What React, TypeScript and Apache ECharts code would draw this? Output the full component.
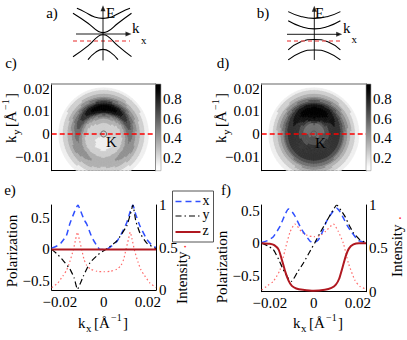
import React, { useEffect, useRef } from 'react';
import * as echarts from 'echarts';

const FONT = "'Liberation Serif', 'Times New Roman', serif";

// ---------- panels c, d : k-space intensity maps ----------
const KX_RANGE = [-0.0237, 0.0237];
const KY_RANGE = [-0.0163, 0.0222];
const KY_TICKS = [-0.01, 0, 0.01, 0.02];
const CBAR_RANGE = [0.07, 0.955];
const CBAR_TICKS = [0.2, 0.4, 0.6, 0.8];
const MAP_ANGLES = [0, 30, 60, 90, 120, 150, 180, 210, 240, 270, 300, 330];
const MAP_RADII = [0, 0.004, 0.007, 0.009, 0.01, 0.011, 0.012, 0.013, 0.014, 0.016, 0.018, 0.0205];
const MAP_C = [
  [0.21, 0.22, 0.26, 0.33, 0.42, 0.52, 0.56, 0.52, 0.45, 0.32, 0.22, 0.14],
  [0.21, 0.23, 0.3, 0.42, 0.55, 0.68, 0.72, 0.66, 0.56, 0.38, 0.25, 0.15],
  [0.21, 0.25, 0.38, 0.58, 0.78, 0.9, 0.92, 0.86, 0.7, 0.45, 0.28, 0.16],
  [0.21, 0.26, 0.42, 0.65, 0.88, 0.95, 0.95, 0.92, 0.78, 0.48, 0.3, 0.16],
  [0.21, 0.25, 0.38, 0.58, 0.78, 0.9, 0.92, 0.86, 0.7, 0.45, 0.28, 0.16],
  [0.21, 0.23, 0.3, 0.42, 0.55, 0.68, 0.72, 0.66, 0.56, 0.38, 0.25, 0.15],
  [0.21, 0.22, 0.26, 0.33, 0.42, 0.52, 0.56, 0.52, 0.45, 0.32, 0.22, 0.14],
  [0.21, 0.2, 0.23, 0.28, 0.33, 0.4, 0.46, 0.48, 0.46, 0.36, 0.23, 0.14],
  [0.21, 0.18, 0.2, 0.25, 0.3, 0.36, 0.4, 0.41, 0.38, 0.3, 0.2, 0.14],
  [0.21, 0.17, 0.19, 0.23, 0.27, 0.32, 0.36, 0.36, 0.33, 0.26, 0.18, 0.14],
  [0.21, 0.18, 0.2, 0.25, 0.3, 0.36, 0.4, 0.41, 0.38, 0.3, 0.2, 0.14],
  [0.21, 0.2, 0.23, 0.28, 0.33, 0.4, 0.46, 0.48, 0.46, 0.36, 0.23, 0.14],
];
const MAP_D = [
  [0.55, 0.6, 0.7, 0.76, 0.76, 0.74, 0.7, 0.62, 0.52, 0.36, 0.23, 0.14],
  [0.55, 0.5, 0.72, 0.8, 0.82, 0.8, 0.76, 0.68, 0.58, 0.4, 0.25, 0.15],
  [0.55, 0.5, 0.85, 0.92, 0.93, 0.92, 0.88, 0.8, 0.68, 0.47, 0.28, 0.16],
  [0.55, 0.55, 0.9, 0.95, 0.95, 0.95, 0.92, 0.85, 0.72, 0.5, 0.3, 0.16],
  [0.55, 0.5, 0.85, 0.92, 0.93, 0.92, 0.88, 0.8, 0.68, 0.47, 0.28, 0.16],
  [0.55, 0.5, 0.72, 0.8, 0.82, 0.8, 0.76, 0.68, 0.58, 0.4, 0.25, 0.15],
  [0.55, 0.6, 0.7, 0.76, 0.76, 0.74, 0.7, 0.62, 0.52, 0.36, 0.23, 0.14],
  [0.55, 0.64, 0.72, 0.76, 0.76, 0.74, 0.7, 0.62, 0.52, 0.36, 0.23, 0.14],
  [0.55, 0.66, 0.74, 0.77, 0.77, 0.75, 0.7, 0.63, 0.53, 0.37, 0.23, 0.14],
  [0.55, 0.66, 0.74, 0.78, 0.78, 0.76, 0.71, 0.64, 0.54, 0.38, 0.24, 0.14],
  [0.55, 0.66, 0.74, 0.77, 0.77, 0.75, 0.7, 0.63, 0.53, 0.37, 0.23, 0.14],
  [0.55, 0.64, 0.72, 0.76, 0.76, 0.74, 0.7, 0.62, 0.52, 0.36, 0.23, 0.14],
];
const K_POINT = [[0, 0]];
const CUT_LINE = [[-0.0237, 0], [0.0237, 0]];

// ---------- panels e, f : polarization & intensity along k_x ----------
const KX_TICKS = [-0.02, 0, 0.02];
const POL_TICKS = [-0.5, 0, 0.5];
const INT_TICKS = [0, 0.5, 1];
const POL_RANGE_E = [-0.64, 0.7];
const POL_RANGE_F = [-0.75, 0.59];
const LEGEND_NAMES = ['x', 'y', 'z'];

const E_X = [[-0.0237, 0.02], [-0.021, 0.06], [-0.0195, 0.1], [-0.017, 0.22], [-0.0155, 0.4], [-0.0135, 0.58], [-0.0118, 0.7], [-0.0105, 0.6], [-0.009, 0.47], [-0.0078, 0.4], [-0.006, 0.24], [-0.0048, 0.15], [-0.003, 0.05], [-0.0018, 0], [0.0013, 0], [0.003, 0.04], [0.0058, 0.12], [0.008, 0.25], [0.0104, 0.42], [0.012, 0.6], [0.0132, 0.7], [0.0145, 0.55], [0.0164, 0.37], [0.0195, 0.16], [0.022, 0.06], [0.0237, 0.03]];
const E_Y = [[-0.0237, 0], [-0.021, -0.08], [-0.0184, -0.18], [-0.0154, -0.31], [-0.0135, -0.45], [-0.012, -0.63], [-0.0105, -0.52], [-0.0093, -0.42], [-0.0063, -0.21], [-0.0025, -0.08], [0.0013, 0.01], [0.0058, 0.13], [0.0104, 0.37], [0.012, 0.55], [0.0132, 0.7], [0.0145, 0.45], [0.0164, 0.26], [0.0195, 0.1], [0.0237, 0.01]];
const E_Z = [[-0.0237, 0], [0, 0], [0.0237, 0]];
const E_I = [[-0.0237, 0.03], [-0.021, 0.08], [-0.0185, 0.17], [-0.0169, 0.235], [-0.0155, 0.33], [-0.0139, 0.47], [-0.0128, 0.6], [-0.012, 0.68], [-0.0112, 0.6], [-0.01, 0.47], [-0.009, 0.36], [-0.0078, 0.29], [-0.006, 0.245], [-0.003, 0.22], [0, 0.215], [0.003, 0.22], [0.006, 0.245], [0.0078, 0.29], [0.009, 0.36], [0.01, 0.47], [0.0112, 0.6], [0.012, 0.68], [0.0128, 0.6], [0.0139, 0.47], [0.0155, 0.33], [0.0169, 0.235], [0.0185, 0.17], [0.021, 0.08], [0.0237, 0.03]];

const F_X = [[-0.0237, 0.01], [-0.021, 0.04], [-0.0184, 0.1], [-0.0154, 0.26], [-0.013, 0.45], [-0.0116, 0.53], [-0.0102, 0.5], [-0.0086, 0.42], [-0.0055, 0.21], [-0.0017, 0.03], [0, 0.01], [0.002, 0.05], [0.004, 0.18], [0.0058, 0.34], [0.0089, 0.5], [0.0104, 0.54], [0.012, 0.48], [0.0134, 0.39], [0.0152, 0.27], [0.0172, 0.17], [0.0202, 0.04], [0.0237, 0.01]];
const F_Y = [[-0.0237, 0], [-0.021, -0.04], [-0.0184, -0.1], [-0.016, -0.25], [-0.0139, -0.41], [-0.0115, -0.55], [-0.0101, -0.59], [-0.0075, -0.45], [-0.0048, -0.31], [-0.002, -0.14], [0.0005, 0.01], [0.003, 0.17], [0.0058, 0.34], [0.008, 0.47], [0.0104, 0.59], [0.0125, 0.5], [0.0142, 0.41], [0.016, 0.28], [0.018, 0.16], [0.021, 0.05], [0.0237, 0.01]];
const F_Z = [[-0.0237, 0], [-0.02, -0.01], [-0.018, -0.03], [-0.016, -0.1], [-0.0145, -0.26], [-0.013, -0.44], [-0.0115, -0.58], [-0.01, -0.66], [-0.008, -0.7], [-0.005, -0.72], [0, -0.735], [0.005, -0.72], [0.008, -0.69], [0.01, -0.64], [0.0115, -0.55], [0.013, -0.38], [0.0145, -0.2], [0.016, -0.08], [0.018, -0.02], [0.0205, 0], [0.0237, 0]];
const F_I = [[-0.0237, 0.02], [-0.021, 0.07], [-0.0184, 0.12], [-0.0154, 0.25], [-0.0131, 0.48], [-0.0108, 0.69], [-0.0086, 0.78], [-0.0055, 0.69], [-0.003, 0.65], [0, 0.634], [0.003, 0.65], [0.0055, 0.7], [0.0089, 0.78], [0.011, 0.7], [0.0134, 0.56], [0.0157, 0.33], [0.0187, 0.13], [0.021, 0.06], [0.0237, 0.03]];

// ---------- panels a, b : band schematics (normalized units) ----------
const A_BANDS = [
  [[-0.87, 0.95], [-0.6, 0.81], [-0.3, 0.64], [0, 0.58], [0.3, 0.64], [0.6, 0.81], [0.9, 0.95]],
  [[-1, 0.77], [-0.5, 0.4], [-0.15, 0.09], [0, 0.05], [0.15, 0.09], [0.5, 0.4], [0.95, 0.77]],
  [[-1, -0.84], [-0.5, -0.44], [-0.15, -0.08], [0, -0.03], [0.15, -0.08], [0.5, -0.44], [0.95, -0.84]],
  [[-0.5, -0.95], [-0.25, -0.68], [0, -0.57], [0.25, -0.68], [0.5, -0.95]],
];
const A_KAXIS = [[-0.9, 0], [0.85, 0]];
const A_EAXIS = [[0, -0.98], [0, 0.95]];
const A_FERMI = [[-1, -0.26], [0.9, -0.26]];
const B_BANDS = [
  [[-0.87, 0.84], [-0.45, 0.66], [0, 0.59], [0.45, 0.66], [0.87, 0.84]],
  [[-0.87, 0.5], [-0.45, 0.29], [0, 0.2], [0.45, 0.29], [0.87, 0.5]],
  [[-0.87, -0.58], [-0.45, -0.28], [0, -0.19], [0.45, -0.28], [0.87, -0.58]],
  [[-0.87, -0.95], [-0.45, -0.67], [0, -0.58], [0.45, -0.67], [0.87, -0.95]],
];
const B_KAXIS = [[-0.91, 0], [0.83, 0]];
const B_EAXIS = [[0, -0.95], [0, 0.95]];
const B_FERMI = [[-0.91, -0.25], [0.86, -0.25]];

// ---------- styles ----------
const C_X = '#3050ff';
const C_Y = '#000000';
const C_Z = '#b01820';
const C_I = '#ff6a6a';
const DASH_X = [6, 4];
const DASH_Y = [6, 3, 1.5, 3];
const DASH_I = [1.5, 2.5];

// ---------- helpers ----------
const gray = (v: number) => {
  const g = Math.max(0, Math.min(1, 1 - (v - 0.1) / 0.8));
  const c = Math.round(g * 255);
  return `rgb(${c},${c},${c})`;
};
const level = (v: number) => Math.floor(v * 10) / 10 + 0.05;
const fmt = (v: number) => (v < -1e-9 ? '\u2212' : '') + String(Math.round(Math.abs(v) * 1000) / 1000);

const mapCells = () => {
  const cells: number[][] = [];
  for (let a = 0; a < MAP_ANGLES.length; a++)
    for (let r = 0; r < MAP_RADII.length - 1; r++) cells.push([0, 0, a, r]);
  return cells;
};

const makeMapRender = (grid: number[][]) => (_params: any, api: any) => {
  const a = api.value(2) as number;
  const r = api.value(3) as number;
  const nA = MAP_ANGLES.length;
  const a2 = (a + 1) % nA;
  const t0 = (MAP_ANGLES[a] * Math.PI) / 180;
  const t1 = ((a2 === 0 ? 360 : MAP_ANGLES[a2]) * Math.PI) / 180;
  const r0 = MAP_RADII[r];
  const r1 = MAP_RADII[r + 1];
  const v00 = grid[a][r], v10 = grid[a2][r], v01 = grid[a][r + 1], v11 = grid[a2][r + 1];
  const SA = 6, SR = 3;
  const children: any[] = [];
  for (let i = 0; i < SA; i++) {
    for (let j = 0; j < SR; j++) {
      const fa = (i + 0.5) / SA, fr = (j + 0.5) / SR;
      const v = v00 * (1 - fa) * (1 - fr) + v10 * fa * (1 - fr) + v01 * (1 - fa) * fr + v11 * fa * fr;
      const ta0 = t0 + ((t1 - t0) * i) / SA, ta1 = t0 + ((t1 - t0) * (i + 1)) / SA;
      const rr0 = r0 + ((r1 - r0) * j) / SR, rr1 = r0 + ((r1 - r0) * (j + 1)) / SR;
      const pts = [[rr0, ta0], [rr1, ta0], [rr1, ta1], [rr0, ta1]].map(([rr, tt]) =>
        api.coord([rr * Math.cos(tt), rr * Math.sin(tt)])
      );
      const c = gray(level(v));
      children.push({ type: 'polygon', shape: { points: pts }, style: { fill: c, stroke: c, lineWidth: 0.6 } });
    }
  }
  return { type: 'group', children };
};

const cbarRender = (_params: any, api: any) => {
  const p0 = api.coord([0, CBAR_RANGE[1]]);
  const p1 = api.coord([1, CBAR_RANGE[0]]);
  const stops: any[] = [];
  for (let k = 0; k <= 20; k++) {
    const v = CBAR_RANGE[1] - ((CBAR_RANGE[1] - CBAR_RANGE[0]) * k) / 20;
    stops.push({ offset: k / 20, color: gray(v) });
  }
  return {
    type: 'rect',
    shape: { x: p0[0], y: p0[1], width: p1[0] - p0[0], height: p1[1] - p0[1] },
    style: { fill: new echarts.graphic.LinearGradient(0, 0, 0, 1, stops), stroke: '#999', lineWidth: 0.6 },
  };
};

const T = (text: string, x: number, y: number, size = 15, opts: any = {}) => ({
  type: 'text',
  x,
  y,
  silent: true,
  z: 20,
  style: {
    text,
    fill: opts.fill || '#000',
    font: `${size}px ${FONT}`,
    align: opts.align || 'left',
    verticalAlign: 'middle',
    textAlign: opts.align || 'left',
    textVerticalAlign: 'middle',
  },
});

const kLabel = (sub: string, x: number, y: number, rot: number) => ({
  type: 'group',
  x,
  y,
  rotation: rot,
  children: [
    T('k', 0, 0),
    T(sub, 8, 5, 11),
    T('[Å', 16, 0),
    T('\u22121', 33, -6, 10),
    T(']', 45, 0),
  ],
});

const legendGraphic = () => {
  const x0 = 172.5, y0 = 191, w = 41, h = 51;
  const rows = [
    { name: LEGEND_NAMES[0], y: 201.5, color: C_X, dash: DASH_X, width: 1.5 },
    { name: LEGEND_NAMES[1], y: 216, color: C_Y, dash: DASH_Y, width: 1.2 },
    { name: LEGEND_NAMES[2], y: 232, color: C_Z, dash: null, width: 2 },
  ];
  const els: any[] = [
    { type: 'rect', z: 19, shape: { x: x0, y: y0, width: w, height: h }, style: { fill: '#fff', stroke: '#555', lineWidth: 1 } },
  ];
  rows.forEach((r) => {
    els.push({
      type: 'line', z: 20, shape: { x1: x0 + 3, y1: r.y, x2: x0 + 28, y2: r.y },
      style: { stroke: r.color, lineWidth: r.width, lineDash: r.dash || undefined },
    });
    els.push(T(r.name, x0 + 30, r.y - 1.5, 14));
  });
  return els;
};

const axisFont = { fontFamily: FONT, fontSize: 15, color: '#000' };
const black = { lineStyle: { color: '#000', width: 1 } };

const hiddenAxis = (gridIndex: number, min: number, max: number) => ({
  gridIndex, type: 'value', min, max, show: false,
});

const boxX = (gridIndex: number, position: string, color: string, width: number) => ({
  gridIndex, type: 'value', min: KX_RANGE[0], max: KX_RANGE[1], position,
  axisLine: { show: true, onZero: false, lineStyle: { color, width } },
  axisTick: { show: false }, axisLabel: { show: false }, splitLine: { show: false },
});

const buildOption = () => {
  const grid = [
    { left: 51.7, top: 84, width: 103.8, height: 86.7 },
    { left: 155.5, top: 84, width: 5.5, height: 86.7 },
    { left: 261.7, top: 84, width: 104.3, height: 86.7 },
    { left: 366, top: 84, width: 5, height: 86.7 },
    { left: 51.7, top: 205, width: 104.3, height: 85 },
    { left: 261.7, top: 205, width: 104.3, height: 86.7 },
    { left: 73, top: 7, width: 60, height: 54 },
    { left: 284.3, top: 7.3, width: 60, height: 54 },
  ];
  const kyAxis = (gridIndex: number) => ({
    gridIndex, type: 'value', min: KY_RANGE[0], max: KY_RANGE[1], position: 'left',
    axisLine: { show: true, onZero: false, ...black }, axisTick: { show: false }, splitLine: { show: false },
    axisLabel: { ...axisFont, margin: 2, customValues: KY_TICKS, formatter: fmt },
  });
  const rightBorder = (gridIndex: number) => ({
    gridIndex, type: 'value', min: KY_RANGE[0], max: KY_RANGE[1], position: 'right',
    axisLine: { show: true, onZero: false, ...black }, axisTick: { show: false }, splitLine: { show: false },
    axisLabel: { show: false },
  });
  const cbarAxis = (gridIndex: number) => ({
    gridIndex, type: 'value', min: CBAR_RANGE[0], max: CBAR_RANGE[1], position: 'right',
    axisLine: { show: false }, axisTick: { show: false }, splitLine: { show: false },
    axisLabel: { ...axisFont, margin: 2, customValues: CBAR_TICKS, formatter: fmt },
  });
  const kxAxis = (gridIndex: number) => ({
    gridIndex, type: 'value', min: KX_RANGE[0], max: KX_RANGE[1], position: 'bottom',
    axisLine: { show: true, onZero: false, ...black }, axisTick: { show: false }, splitLine: { show: false },
    axisLabel: { ...axisFont, margin: 4, customValues: KX_TICKS, formatter: fmt },
  });
  const polAxis = (gridIndex: number, range: number[]) => ({
    gridIndex, type: 'value', min: range[0], max: range[1], position: 'left',
    axisLine: { show: true, onZero: false, ...black }, axisTick: { show: false }, splitLine: { show: false },
    axisLabel: { ...axisFont, margin: 2, customValues: POL_TICKS, formatter: fmt },
  });
  const intAxis = (gridIndex: number) => ({
    gridIndex, type: 'value', min: 0, max: 1, position: 'right',
    axisLine: { show: true, onZero: false, ...black }, axisTick: { show: false }, splitLine: { show: false },
    axisLabel: { ...axisFont, margin: 3, customValues: INT_TICKS, formatter: fmt },
  });

  const xAxis = [
    boxX(0, 'bottom', '#000', 1), // 0
    boxX(0, 'top', '#999', 1.5), // 1
    hiddenAxis(1, 0, 1), // 2
    boxX(2, 'bottom', '#000', 1), // 3
    boxX(2, 'top', '#999', 1.5), // 4
    hiddenAxis(3, 0, 1), // 5
    kxAxis(4), // 6
    kxAxis(5), // 7
    hiddenAxis(6, -1, 1), // 8
    hiddenAxis(7, -1, 1), // 9
  ];
  const yAxis = [
    kyAxis(0), // 0
    rightBorder(0), // 1
    cbarAxis(1), // 2
    kyAxis(2), // 3
    rightBorder(2), // 4
    cbarAxis(3), // 5
    polAxis(4, POL_RANGE_E), // 6
    intAxis(4), // 7
    polAxis(5, POL_RANGE_F), // 8
    intAxis(5), // 9
    hiddenAxis(6, -1, 1), // 10
    hiddenAxis(7, -1, 1), // 11
  ];

  const mapSeries = (grid: number[][], xi: number, yi: number, cbx: number, cby: number) => [
    {
      type: 'custom', xAxisIndex: xi, yAxisIndex: yi, data: mapCells(), renderItem: makeMapRender(grid),
      clip: true, silent: true, z: 1, encode: { x: 0, y: 1 },
    },
    {
      type: 'line', xAxisIndex: xi, yAxisIndex: yi, data: CUT_LINE, symbol: 'none', silent: true, z: 3,
      lineStyle: { color: '#ff0000', width: 1.5, type: [5, 3] },
    },
    {
      type: 'scatter', xAxisIndex: xi, yAxisIndex: yi, data: K_POINT, symbol: 'circle', symbolSize: 6, silent: true, z: 4,
      itemStyle: { color: 'rgba(0,0,0,0)', borderColor: '#555', borderWidth: 1 },
    },
    {
      type: 'custom', xAxisIndex: cbx, yAxisIndex: cby, data: [[0, 0]], renderItem: cbarRender, silent: true, z: 1,
    },
  ];

  const lineSeries = (xi: number, yl: number, yr: number, X: number[][], Y: number[][], Z: number[][], I: number[][]) => [
    {
      name: LEGEND_NAMES[0], type: 'line', xAxisIndex: xi, yAxisIndex: yl, data: X, symbol: 'none', smooth: 0.15, z: 3,
      color: C_X, lineStyle: { color: C_X, width: 1.5, type: DASH_X },
    },
    {
      name: LEGEND_NAMES[1], type: 'line', xAxisIndex: xi, yAxisIndex: yl, data: Y, symbol: 'none', smooth: 0.15, z: 3,
      color: C_Y, lineStyle: { color: C_Y, width: 1.2, type: DASH_Y },
    },
    {
      name: 'Intensity', type: 'line', xAxisIndex: xi, yAxisIndex: yr, data: I, symbol: 'none', smooth: 0.2, z: 2,
      color: C_I, lineStyle: { color: C_I, width: 1.2, type: DASH_I },
    },
    {
      name: LEGEND_NAMES[2], type: 'line', xAxisIndex: xi, yAxisIndex: yl, data: Z, symbol: 'none', smooth: 0.2, z: 4,
      color: C_Z, lineStyle: { color: C_Z, width: 2 },
    },
  ];

  const schematic = (xi: number, yi: number, bands: number[][][], kAxis: number[][], eAxis: number[][], fermi: number[][]) => [
    ...bands.map((b) => ({
      type: 'line', xAxisIndex: xi, yAxisIndex: yi, data: b, symbol: 'none', smooth: true, silent: true,
      lineStyle: { color: '#000', width: 1.1 },
    })),
    {
      type: 'line', xAxisIndex: xi, yAxisIndex: yi, data: fermi, symbol: 'none', silent: true,
      lineStyle: { color: '#f07070', width: 1.5, type: [4, 3] },
    },
    {
      type: 'line', xAxisIndex: xi, yAxisIndex: yi, data: kAxis, symbol: 'none', silent: true,
      lineStyle: { color: '#000', width: 0.9 },
    },
    {
      type: 'line', xAxisIndex: xi, yAxisIndex: yi, data: eAxis, symbol: 'none', silent: true,
      lineStyle: { color: '#000', width: 0.9 },
    },
    {
      type: 'scatter', xAxisIndex: xi, yAxisIndex: yi, silent: true, symbol: 'triangle', symbolSize: [5, 6],
      itemStyle: { color: '#000' },
      data: [
        { value: kAxis[1], symbolRotate: -90 },
        { value: eAxis[1], symbolRotate: 0 },
      ],
    },
  ];

  const graphic = [
    T('a)', 52, 13, 15, { align: 'center' }),
    T('b)', 263, 13, 15, { align: 'center' }),
    T('c)', 11, 63, 15, { align: 'center' }),
    T('d)', 223, 63, 15, { align: 'center' }),
    T('e)', 10, 190, 15, { align: 'center' }),
    T('f)', 226, 190, 15, { align: 'center' }),
    T('K', 111.5, 142, 15, { align: 'center' }),
    T('K', 320.5, 143, 15, { align: 'center' }),
    T('E', 106, 13),
    T('k', 132, 28),
    T('x', 141, 39.5, 11),
    T('E', 315, 13),
    T('k', 343, 28),
    T('x', 351.5, 38.5, 11),
    kLabel('y', 11, 143, Math.PI / 2),
    kLabel('y', 221, 143, Math.PI / 2),
    kLabel('x', 78, 323, 0),
    kLabel('x', 293, 323, 0),
    { type: 'group', x: 12, y: 251, rotation: Math.PI / 2, children: [T('Polarization', 0, 0, 15, { align: 'center' })] },
    { type: 'group', x: 222, y: 267, rotation: Math.PI / 2, children: [T('Polarization', 0, 0, 15, { align: 'center' })] },
    {
      type: 'group', x: 182, y: 304, rotation: Math.PI / 2,
      children: [T('Intensity', 0, 0, 15), T('.', 55.5, -1, 15, { fill: '#ff3030' })],
    },
    {
      type: 'group', x: 397, y: 277, rotation: Math.PI / 2,
      children: [T('Intensity', 0, 0, 15), T('.', 57, -1, 15, { fill: '#ff3030' })],
    },
    ...legendGraphic(),
  ];

  return {
    animation: false,
    backgroundColor: '#fff',
    textStyle: { fontFamily: FONT },
    grid,
    xAxis,
    yAxis,
    series: [
      ...mapSeries(MAP_C, 0, 0, 2, 2),
      ...mapSeries(MAP_D, 3, 3, 5, 5),
      ...lineSeries(6, 6, 7, E_X, E_Y, E_Z, E_I),
      ...lineSeries(7, 8, 9, F_X, F_Y, F_Z, F_I),
      ...schematic(8, 10, A_BANDS, A_KAXIS, A_EAXIS, A_FERMI),
      ...schematic(9, 11, B_BANDS, B_KAXIS, B_EAXIS, B_FERMI),
    ],
    graphic,
  };
};

export default function App() {
  const ref = useRef<HTMLDivElement>(null);
  useEffect(() => {
    document.body.style.margin = '0';
    const chart = echarts.init(ref.current!, undefined, { renderer: 'svg' });
    chart.setOption(buildOption() as any);
    return () => chart.dispose();
  }, []);
  return <div ref={ref} style={{ width: 407, height: 340, background: '#fff' }} />;
}
